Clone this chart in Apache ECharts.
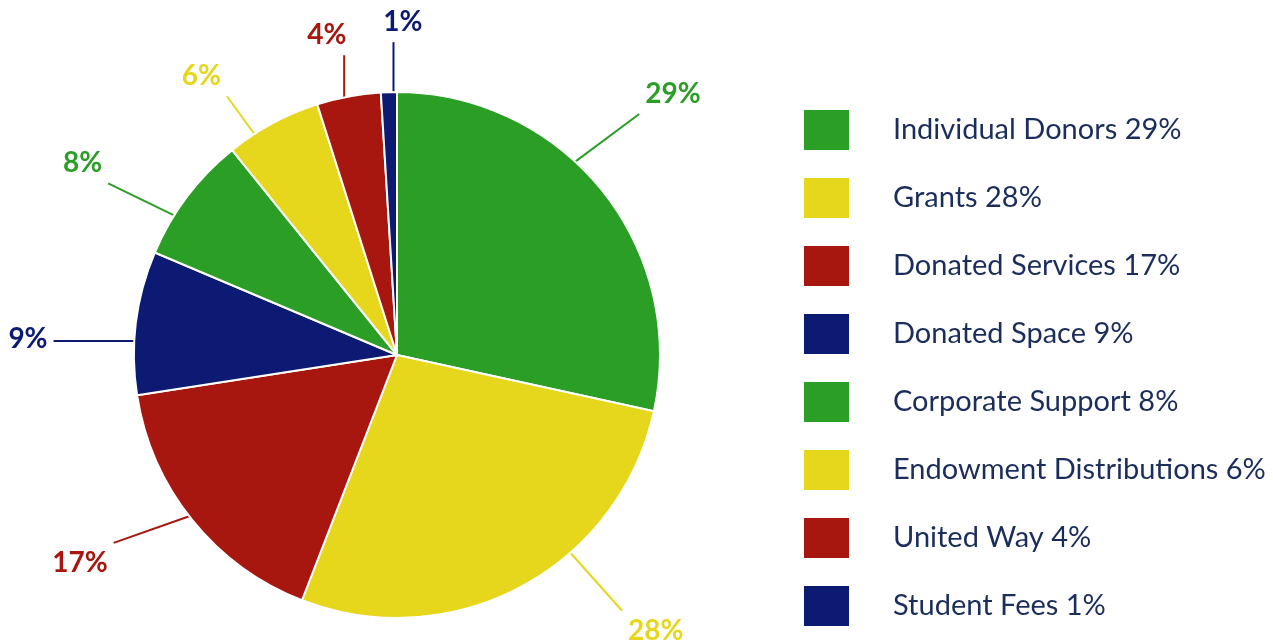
<!DOCTYPE html>
<html>
<head>
<meta charset="utf-8">
<script src="https://cdn.jsdelivr.net/npm/echarts@6/dist/echarts.min.js"></script>
<style>
  html, body { margin: 0; padding: 0; background: #fff; }
  #container { width: 1273px; height: 643px; }
</style>
</head>
<body>
<div id="container"></div>
<script>
// data
var categories = ['Individual Donors', 'Grants', 'Donated Services', 'Donated Space',
                  'Corporate Support', 'Endowment Distributions', 'United Way', 'Student Fees'];
var values = [29, 28, 17, 9, 8, 6, 4, 1];
var colors = ['#2b9e26', '#e6d61c', '#a8170f', '#0d1a73', '#2b9e26', '#e6d61c', '#a8170f', '#0d1a73'];
var labelLineLengths = [80, 50, 75, 75, 45, 50, 45, 50];
// nudges for the outside labels [dx, dy]
var labelOffsets = [[-25, -46], [77, 0], [-20, -4], [-8, 26], [-43, -6], [-22, -3], [12, -17], [41, -20]];
// leader lines leave the rim a bit off the slice middle (degrees, clockwise)
var lineStartShift = [-8.5, -13, 1, -4, -5, -4.6, -1, 1];

var pieCenter = [397, 355];
var dom = document.getElementById('container');
var myChart = echarts.init(dom, null, { renderer: 'canvas' });

var pieData = categories.map(function (name, i) {
  return {
    name: name,
    value: values[i],
    itemStyle: { color: colors[i] },
    labelLine: { length: labelLineLengths[i] }
  };
});

function leader(params) {
  var i = params.dataIndex;
  var off = labelOffsets[i];
  var p0 = params.labelLinePoints[0];
  // rotate the rim point round the centre
  var a = lineStartShift[i] * Math.PI / 180;
  var vx = p0[0] - pieCenter[0], vy = p0[1] - pieCenter[1];
  var sx = pieCenter[0] + vx * Math.cos(a) - vy * Math.sin(a);
  var sy = pieCenter[1] + vx * Math.sin(a) + vy * Math.cos(a);
  // nearest point of the moved label box (with a small gap)
  var r = params.labelRect, gap = 6;
  var x0 = r.x + off[0] - gap, x1 = r.x + off[0] + r.width + gap;
  var y0 = r.y + off[1] - gap, y1 = r.y + off[1] + r.height + gap;
  var ex = Math.min(Math.max(sx, x0), x1);
  var ey = Math.min(Math.max(sy, y0), y1);
  return {
    dx: off[0],
    dy: off[1],
    labelLinePoints: [[sx, sy], [ex, ey], [ex, ey]]
  };
}

var option = {
  animation: false,
  legend: {
    orient: 'vertical',
    left: 797,
    top: 103,
    height: 620,
    itemWidth: 47,
    itemHeight: 42,
    itemGap: 24,
    icon: 'rect',
    selectedMode: false,
    data: categories,
    formatter: function (name) {
      return name + ' ' + values[categories.indexOf(name)] + '%';
    },
    textStyle: {
      fontFamily: 'Lato',
      fontSize: 29,
      lineHeight: 32,
      color: '#1b2d5c',
      padding: [0, 0, 0, 38]
    }
  },
  series: [
    {
      type: 'pie',
      center: pieCenter,
      radius: 263,
      startAngle: 90,
      clockwise: true,
      avoidLabelOverlap: false,
      itemStyle: { borderColor: '#fff', borderWidth: 2 },
      label: {
        show: true,
        position: 'outside',
        formatter: '{c}%',
        color: 'inherit',
        fontFamily: 'Lato',
        fontWeight: 'bold',
        fontSize: 28,
        distanceToLabelLine: 6
      },
      labelLine: {
        show: true,
        length: 50,
        length2: 0,
        lineStyle: { width: 2 }
      },
      labelLayout: leader,
      data: pieData
    }
  ]
};

myChart.setOption(option);
window.addEventListener('resize', function () {
  myChart.resize();
});
</script>
</body>
</html>
